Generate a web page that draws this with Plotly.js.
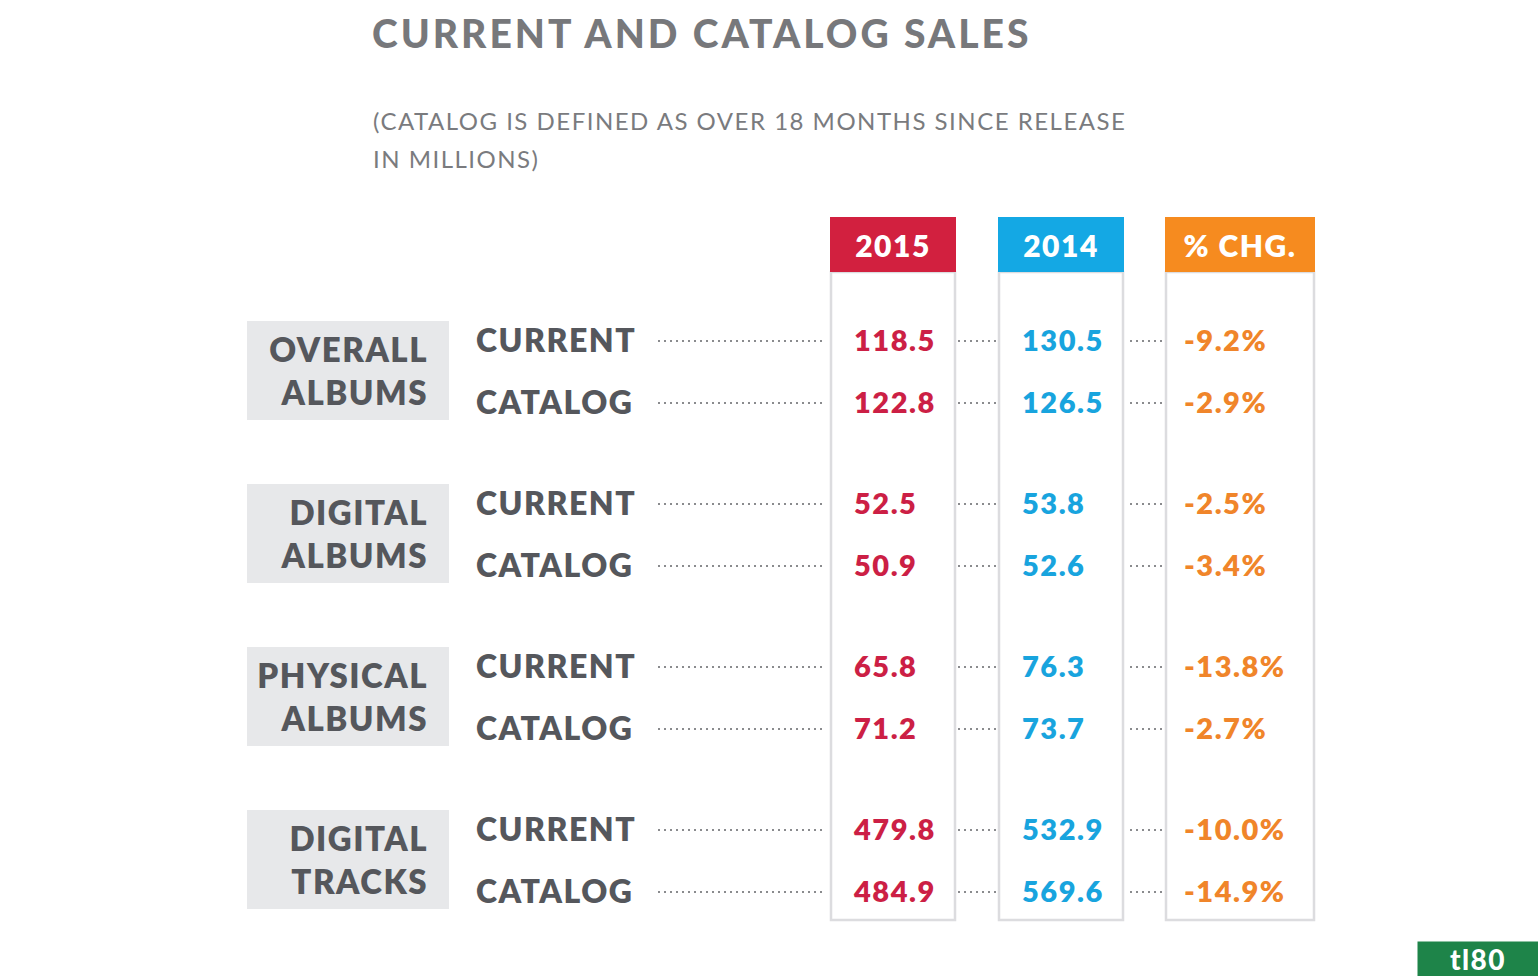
<!DOCTYPE html>
<html><head><meta charset="utf-8">
<script src="https://cdn.plot.ly/plotly-3.0.1.min.js"></script>
<style>
html,body{margin:0;padding:0;background:#fff;}
#chart{width:1538px;height:976px;}
#chart text{letter-spacing:1.5px;}
#chart .gtitle{letter-spacing:3px;}
</style></head>
<body><div id="chart"></div>
<script>
// ---------- DATA ----------
const categories = ["OVERALL<br>ALBUMS", "DIGITAL<br>ALBUMS", "PHYSICAL<br>ALBUMS", "DIGITAL<br>TRACKS"];
const subLabels = ["CURRENT", "CATALOG"];
const columnHeaders = ["2015", "2014", "% CHG."];
const sales2015 = [118.5, 122.8, 52.5, 50.9, 65.8, 71.2, 479.8, 484.9];
const sales2014 = [130.5, 126.5, 53.8, 52.6, 76.3, 73.7, 532.9, 569.6];
const pctChange = [-9.2, -2.9, -2.5, -3.4, -13.8, -2.7, -10.0, -14.9];

// ---------- LAYOUT CONSTANTS ----------
const FONT = "Lato, 'Open Sans', 'DejaVu Sans', sans-serif";
const DARK = "#55575c";
const COLORS = ["#d2203f", "#14a8e4", "#f68b1f"];
const TEXT_COLORS = ["#cc1f45", "#18a4de", "#f0852a"];
const ROW_TOP = 341, GROUP_PITCH = 163, ROW_PITCH = 62;
const COL_LEFT = [830, 998, 1165], COL_W = [126, 126, 150], VAL_OFF = [24, 24, 19];
const HEAD_TOP = 217, HEAD_BOT = 272, BODY_BOT = 920;
const TEXT_DY = 3;
const rowY = i => ROW_TOP + Math.floor(i / 2) * GROUP_PITCH + (i % 2) * ROW_PITCH;

const nRows = sales2015.length;
const rowIdx = [...Array(nRows).keys()];
const ys = rowIdx.map(rowY);
const groupY = categories.map((c, g) => (rowY(2 * g) + rowY(2 * g + 1)) / 2);

const traces = [];
// group labels
traces.push({type: 'scatter', mode: 'text', x: categories.map(() => 428), y: groupY.map(y => y + TEXT_DY),
  text: categories, textposition: 'middle left',
  textfont: {family: FONT, size: 33, color: DARK, weight: 800}, hoverinfo: 'skip', showlegend: false});
// sub labels
traces.push({type: 'scatter', mode: 'text', x: rowIdx.map(() => 476), y: ys.map(y => y + TEXT_DY),
  text: rowIdx.map(i => subLabels[i % 2]), textposition: 'middle right',
  textfont: {family: FONT, size: 32, color: DARK, weight: 800}, hoverinfo: 'skip', showlegend: false});
// value columns
const series = [sales2015.map(v => v.toFixed(1)), sales2014.map(v => v.toFixed(1)), pctChange.map(v => v.toFixed(1) + '%')];
series.forEach((vals, c) => {
  traces.push({type: 'scatter', mode: 'text', x: vals.map(() => COL_LEFT[c] + VAL_OFF[c]), y: ys.map(y => y + TEXT_DY),
    text: vals, textposition: 'middle right',
    textfont: {family: FONT, size: 29, color: TEXT_COLORS[c], weight: 800}, hoverinfo: 'skip', showlegend: false});
});
// headers
traces.push({type: 'scatter', mode: 'text', x: columnHeaders.map((h, c) => COL_LEFT[c] + COL_W[c] / 2), y: columnHeaders.map(() => (HEAD_TOP + HEAD_BOT) / 2 + TEXT_DY + 2),
  text: columnHeaders, textposition: 'middle center',
  textfont: {family: FONT, size: 30, color: '#ffffff', weight: 800}, hoverinfo: 'skip', showlegend: false});

const shapes = [];
// grey label boxes
categories.forEach((c, g) => {
  shapes.push({type: 'rect', xref: 'x', yref: 'y', x0: 247, x1: 449, y0: groupY[g] - 51, y1: groupY[g] + 48,
    fillcolor: '#e7e8ea', line: {width: 0}, layer: 'below'});
});
// column bodies and headers
columnHeaders.forEach((h, c) => {
  shapes.push({type: 'rect', xref: 'x', yref: 'y', x0: COL_LEFT[c] + 1, x1: COL_LEFT[c] + COL_W[c] - 1, y0: HEAD_BOT, y1: BODY_BOT,
    fillcolor: '#ffffff', line: {width: 2.5, color: '#dcdcdf'}, layer: 'below'});
  shapes.push({type: 'rect', xref: 'x', yref: 'y', x0: COL_LEFT[c], x1: COL_LEFT[c] + COL_W[c], y0: HEAD_TOP, y1: HEAD_BOT,
    fillcolor: COLORS[c], line: {width: 0}, layer: 'below'});
});
// dotted leaders
const DOT_SEGS = [[658, 826], [958, 996], [1130, 1163]];
ys.forEach(y => {
  DOT_SEGS.forEach(([a, b]) => {
    shapes.push({type: 'line', xref: 'x', yref: 'y', x0: a, x1: b, y0: y, y1: y,
      line: {color: '#8a8b8e', width: 2, dash: '2px,4px'}, layer: 'below'});
  });
});

const layout = {
  width: 1538, height: 976,
  margin: {l: 0, r: 0, t: 0, b: 0},
  paper_bgcolor: '#ffffff', plot_bgcolor: '#ffffff',
  xaxis: {range: [0, 1538], visible: false, fixedrange: true},
  yaxis: {range: [976, 0], visible: false, fixedrange: true},
  title: {text: 'CURRENT AND CATALOG SALES', x: 372 / 1538, xanchor: 'left', xref: 'paper',
    y: 1 - 34 / 976, yanchor: 'middle', yref: 'container',
    font: {family: FONT, size: 39, color: '#77787b', weight: 900}},
  annotations: [
    {text: '(CATALOG IS DEFINED AS OVER 18 MONTHS SINCE RELEASE', xref: 'x', yref: 'y',
     x: 371, y: 120, xanchor: 'left', yanchor: 'middle', align: 'left', showarrow: false,
     font: {family: FONT, size: 24, color: '#7a7b7e'}},
    {text: 'IN MILLIONS)', xref: 'x', yref: 'y',
     x: 371, y: 158, xanchor: 'left', yanchor: 'middle', align: 'left', showarrow: false,
     font: {family: FONT, size: 24, color: '#7a7b7e'}},
    {text: 'tl80', xref: 'x', yref: 'y', x: 1478, y: 959, xanchor: 'center', yanchor: 'middle', showarrow: false,
     bgcolor: '#1e8449', width: 118, height: 32, font: {family: FONT, size: 28, color: '#ffffff', weight: 900}}
  ],
  shapes: shapes,
  showlegend: false,
  hovermode: false
};

Plotly.newPlot('chart', traces, layout, {displayModeBar: false, staticPlot: true});
</script>
</body></html>
